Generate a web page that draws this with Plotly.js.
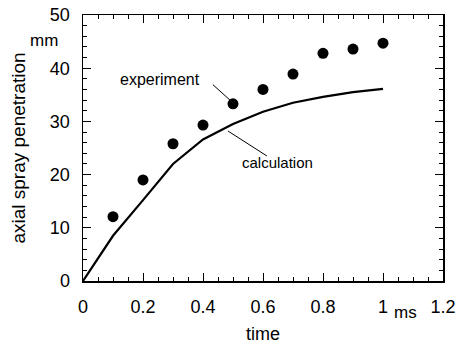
<!DOCTYPE html>
<html>
<head>
<meta charset="utf-8">
<script src="https://cdn.plot.ly/plotly-3.0.1.min.js"></script>
<style>html,body{margin:0;padding:0;background:#fff}#chart{width:457px;height:344px}</style>
</head>
<body>
<div id="chart"></div>
<script>
// Experiment (dots)
const expTime = [0.1, 0.2, 0.3, 0.4, 0.5, 0.6, 0.7, 0.8, 0.9, 1.0];
const expPen = [12.1, 19.0, 25.8, 29.3, 33.3, 36.0, 38.9, 42.8, 43.6, 44.7];
// Calculation (line)
const calcTime = [0, 0.1, 0.2, 0.3, 0.4, 0.5, 0.6, 0.7, 0.8, 0.9, 1.0];
const calcPen = [0, 8.5, 15.2, 22.0, 26.6, 29.5, 31.8, 33.5, 34.6, 35.5, 36.1];
const xRange = [0, 1.2];
const yRange = [0, 50];
const xMajor = 0.2, xMinor = 0.05;
const yMajor = 10, yMinor = 2;

const font = {family: "Liberation Sans, Arial, sans-serif", color: "#000"};
const f = (s) => Object.assign({size: s}, font);

const traces = [
  {x: calcTime, y: calcPen, mode: "lines", line: {color: "#000", width: 2.2}, hoverinfo: "skip"},
  {x: expTime, y: expPen, mode: "markers", marker: {color: "#000", size: 11}, hoverinfo: "skip"}
];

const layout = {
  width: 457, height: 344,
  margin: {l: 83, r: 14, t: 15, b: 63},
  showlegend: false,
  paper_bgcolor: "#fff", plot_bgcolor: "#fff",
  font: f(17),
  xaxis: {
    range: xRange, tickmode: "linear", tick0: 0, dtick: xMajor,
    ticks: "inside", ticklen: 8, tickwidth: 1, tickcolor: "#000",
    minor: {dtick: xMinor, ticks: "inside", ticklen: 4, tickwidth: 1, tickcolor: "#000"},
    showline: true, linecolor: "#000", linewidth: 1.5, mirror: "ticks",
    showgrid: false, zeroline: false, ticklabelstandoff: 9,
    tickfont: f(18),
    title: {text: "time", font: f(18), standoff: 12}
  },
  yaxis: {
    range: yRange, tickmode: "linear", tick0: 0, dtick: yMajor,
    ticks: "inside", ticklen: 8, tickwidth: 1, tickcolor: "#000",
    minor: {dtick: yMinor, ticks: "inside", ticklen: 4, tickwidth: 1, tickcolor: "#000"},
    showline: true, linecolor: "#000", linewidth: 1.5, mirror: "ticks",
    showgrid: false, zeroline: false, ticklabelstandoff: 8,
    tickfont: f(18),
    title: {text: "axial spray penetration", font: f(19), standoff: 19}
  },
  annotations: [
    {xref: "paper", yref: "paper", x: 0, y: 0.905, xshift: -23, text: "mm", showarrow: false, font: f(17), xanchor: "right", yanchor: "middle"},
    {xref: "paper", yref: "paper", x: 0.895, y: -0.12, text: "ms", showarrow: false, font: f(17), xanchor: "center", yanchor: "middle"},
    {xref: "x", yref: "y", x: 0.257, y: 37.8, text: "experiment", showarrow: false, font: f(16), xanchor: "center", yanchor: "middle"},
    {xref: "x", yref: "y", x: 0.647, y: 22.3, text: "calculation", showarrow: false, font: f(15), xanchor: "center", yanchor: "middle"}
  ],
  shapes: [
    {type: "line", xref: "x", yref: "y", x0: 0.433, y0: 36.9, x1: 0.49, y1: 34.0, line: {color: "#000", width: 1}},
    {type: "line", xref: "x", yref: "y", x0: 0.483, y0: 28.2, x1: 0.613, y1: 23.5, line: {color: "#000", width: 1}}
  ]
};

Plotly.newPlot("chart", traces, layout, {displayModeBar: false, staticPlot: true});
</script>
</body>
</html>
